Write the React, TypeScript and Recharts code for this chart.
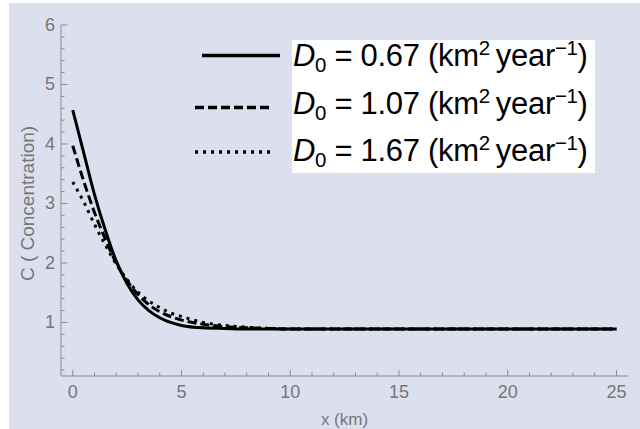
import React from 'react';
import { LineChart, Line, XAxis, YAxis, Legend, Label } from 'recharts';

// x (km) sample positions and concentration
const xValues = [0, 0.5, 1, 1.5, 2, 2.5, 3, 3.5, 4, 4.5, 5, 6, 7, 8, 9, 10, 12, 15, 20, 25];
const cD067 = [4.57, 3.86, 3.15, 2.55, 2.03, 1.65, 1.38, 1.2, 1.08, 1.0, 0.95, 0.91, 0.9, 0.89, 0.89, 0.89, 0.89, 0.89, 0.89, 0.89];
const cD107 = [3.97, 3.38, 2.85, 2.4, 2.0, 1.7, 1.47, 1.3, 1.18, 1.1, 1.04, 0.97, 0.93, 0.91, 0.9, 0.89, 0.89, 0.89, 0.89, 0.89];
const cD167 = [3.36, 3.03, 2.65, 2.3, 1.98, 1.72, 1.51, 1.36, 1.25, 1.16, 1.1, 1.0, 0.95, 0.92, 0.9, 0.89, 0.89, 0.89, 0.89, 0.89];

const seriesKeys = ['d067', 'd107', 'd167'];
const seriesNames = ['0.67', '1.07', '1.67'];

const xTicks = [0, 1, 2, 3, 4, 5, 6, 7, 8, 9, 10, 11, 12, 13, 14, 15, 16, 17, 18, 19, 20, 21, 22, 23, 24, 25];
const yTicks = [
  0.2, 0.4, 0.6, 0.8, 1, 1.2, 1.4, 1.6, 1.8, 2, 2.2, 2.4, 2.6, 2.8, 3, 3.2, 3.4, 3.6, 3.8, 4,
  4.2, 4.4, 4.6, 4.8, 5, 5.2, 5.4, 5.6, 5.8, 6,
];

const data = xValues.map((x, i) => ({ x, d067: cD067[i], d107: cD107[i], d167: cD167[i] }));

const FONT = '"Liberation Sans", Arial, sans-serif';
const FRAME = '#8c8c8c';
const LABEL = '#767676';
const BG = '#dcdfee';
const dashes = [undefined, '9 4', '3 5'];
const X_DOMAIN: [number, number] = [-0.54, 25.53];
const Y_DOMAIN: [number, number] = [0.1, 6];

const isMajor = (v: number) => Math.abs(v - Math.round(v)) < 1e-6;
const isMajorX = (v: number) => v % 5 === 0;

const BottomTick = ({ x, y, payload }: any) => {
  const major = isMajorX(payload.value);
  return (
    <g>
      <line x1={x} x2={x} y1={y} y2={y - (major ? 6 : 3.5)} stroke={FRAME} />
      {major && (
        <text x={x} y={y + 16} textAnchor="middle" dominantBaseline="central" fill={LABEL} fontSize={18} fontFamily={FONT}>
          {payload.value}
        </text>
      )}
    </g>
  );
};

const TopTick = ({ x, y, payload }: any) => {
  const major = isMajorX(payload.value);
  return <line x1={x} x2={x} y1={y} y2={y + (major ? 6 : 3.5)} stroke={FRAME} />;
};

const LeftTick = ({ x, y, payload }: any) => {
  const major = isMajor(payload.value);
  return (
    <g>
      <line x1={x} x2={x + (major ? 6.5 : 3.5)} y1={y} y2={y} stroke={FRAME} />
      {major && (
        <text x={x - 6} y={y} textAnchor="end" dominantBaseline="central" fill={LABEL} fontSize={18} fontFamily={FONT}>
          {Math.round(payload.value)}
        </text>
      )}
    </g>
  );
};

const RightTick = ({ x, y, payload }: any) => {
  const major = isMajor(payload.value);
  return <line x1={x} x2={x - (major ? 6.5 : 3.5)} y1={y} y2={y} stroke={FRAME} />;
};

const rowCenters = [15.5, 67.5, 112];

const LegendBox = () => (
  <div style={{ display: 'flex', alignItems: 'flex-start', fontFamily: FONT, color: '#000' }}>
    <svg width={100} height={133}>
      {seriesNames.map((n, i) => (
        <line
          key={n}
          x1={i === 0 ? 10 : 3}
          x2={i === 0 ? 88 : 80}
          y1={rowCenters[i]}
          y2={rowCenters[i]}
          stroke="#000"
          strokeWidth={3.5}
          strokeDasharray={dashes[i]}
        />
      ))}
    </svg>
    <div style={{ background: '#fff', width: 300, padding: '0 2px 6px 1px' }}>
      {seriesNames.map((n, i) => (
        <div
          key={n}
          style={{ height: 32, lineHeight: '32px', marginTop: i ? 15.5 : 0, fontSize: 31, whiteSpace: 'nowrap', letterSpacing: '-0.3px' }}
        >
          <i>D</i>
          <span style={{ fontSize: '0.66em', verticalAlign: '-0.28em', lineHeight: 0 }}>0</span> = {n} (km
          <span style={{ fontSize: '0.66em', verticalAlign: '0.55em', lineHeight: 0 }}>2</span>
          {'\u2009'}year
          <span style={{ fontSize: '0.66em', verticalAlign: '0.55em', lineHeight: 0 }}>−1</span>)
        </div>
      ))}
    </div>
  </div>
);

export default function App() {
  return (
    <div style={{ position: 'absolute', left: 0, top: 0, width: 640, height: 429, background: '#fff' }}>
      <div style={{ position: 'absolute', left: 9, top: 3, right: 0, bottom: 0, background: BG }} />
      <div style={{ position: 'absolute', left: 0, top: 0 }}>
        <LineChart width={640} height={429} data={data} margin={{ top: 25, right: 12, bottom: 0, left: 0 }}>
          <XAxis
            xAxisId="x"
            dataKey="x"
            type="number"
            domain={X_DOMAIN}
            allowDataOverflow
            ticks={xTicks}
            interval={0}
            height={53}
            tickSize={0}
            tickMargin={0}
            tickLine={false}
            axisLine={{ stroke: FRAME }}
            tick={<BottomTick />}
          >
            <Label
              position="insideBottom"
              content={({ viewBox }: any) => (
                <text
                  x={viewBox.x + viewBox.width / 2}
                  y={viewBox.y + 43}
                  textAnchor="middle"
                  dominantBaseline="central"
                  fill={LABEL}
                  fontSize={17}
                  fontFamily={FONT}
                >
                  x (km)
                </text>
              )}
            />
          </XAxis>
          <XAxis
            xAxisId="top"
            dataKey="x"
            type="number"
            orientation="top"
            domain={X_DOMAIN}
            allowDataOverflow
            ticks={xTicks}
            interval={0}
            height={0}
            tickSize={0}
            tickMargin={0}
            tickLine={false}
            axisLine={{ stroke: FRAME }}
            tick={<TopTick />}
          />
          <YAxis
            yAxisId="y"
            type="number"
            domain={Y_DOMAIN}
            allowDataOverflow
            ticks={yTicks}
            interval={0}
            width={61}
            tickSize={0}
            tickMargin={0}
            tickLine={false}
            axisLine={{ stroke: FRAME }}
            tick={<LeftTick />}
          >
            <Label
              position="insideLeft"
              content={({ viewBox }: any) => {
                const cx = viewBox.x + 27;
                const cy = viewBox.y + viewBox.height / 2 + 3;
                return (
                  <text
                    x={cx}
                    y={cy}
                    transform={`rotate(-90, ${cx}, ${cy})`}
                    textAnchor="middle"
                    dominantBaseline="central"
                    fill={LABEL}
                    fontSize={19}
                    fontFamily={FONT}
                  >
                    C ( Concentration)
                  </text>
                );
              }}
            />
          </YAxis>
          <YAxis
            yAxisId="right"
            type="number"
            orientation="right"
            domain={Y_DOMAIN}
            allowDataOverflow
            ticks={yTicks}
            interval={0}
            width={0}
            tickSize={0}
            tickMargin={0}
            tickLine={false}
            axisLine={{ stroke: FRAME }}
            tick={<RightTick />}
          />
          <Legend
            layout="vertical"
            align="center"
            verticalAlign="middle"
            content={<LegendBox />}
            wrapperStyle={{ left: 192, top: 40, width: 410, height: 140 }}
          />
          {seriesKeys.map((k, i) => (
            <Line
              key={k}
              xAxisId="x"
              yAxisId="y"
              dataKey={k}
              name={seriesNames[i]}
              type="monotone"
              stroke="#000"
              strokeWidth={3}
              strokeDasharray={dashes[i]}
              dot={false}
              isAnimationActive={false}
            />
          ))}
        </LineChart>
      </div>
    </div>
  );
}
